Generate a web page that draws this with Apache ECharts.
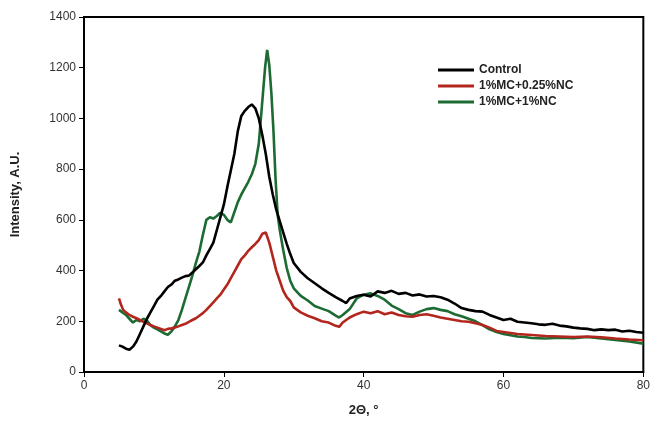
<!DOCTYPE html>
<html><head><meta charset="utf-8">
<script src="https://cdn.jsdelivr.net/npm/echarts@6/dist/echarts.min.js"></script>
<style>html,body{margin:0;padding:0;background:#fff}#c{width:653px;height:430px}</style>
</head><body><div id="c"></div>
<script>
const seriesNames = ["Control", "1%MC+0.25%NC", "1%MC+1%NC"];
const xTicks = [0, 20, 40, 60, 80];
const yTicks = [0, 200, 400, 600, 800, 1000, 1200, 1400];
const control = [[5,105],[5.5,100],[6,92],[6.5,88],[7,100],[7.5,120],[8,150],[8.5,180],[9,210],[9.5,235],[10,260],[10.5,285],[11,300],[11.5,318],[12,335],[12.5,345],[13,360],[13.5,365],[14,372],[14.5,378],[15,380],[15.5,392],[16,405],[16.5,418],[17,432],[17.5,460],[18,485],[18.5,510],[19,560],[19.5,610],[20,660],[20.5,730],[21,795],[21.5,860],[22,950],[22.5,1010],[23,1030],[23.5,1045],[24,1055],[24.5,1040],[25,1000],[25.5,935],[26,860],[26.5,770],[27,700],[27.5,640],[28,595],[28.5,550],[29,505],[29.5,465],[30,430],[31,395],[32,370],[33,350],[34,330],[35,312],[36,295],[37,280],[37.5,272],[38,290],[39,300],[40,305],[41,298],[42,318],[43,312],[44,320],[45,308],[46,312],[47,302],[48,306],[49,298],[50,300],[51,295],[52,285],[53,270],[54,252],[55,245],[56,240],[57,238],[58,225],[59,215],[60,205],[61,210],[62,198],[63,195],[64,192],[65,188],[66,186],[67,190],[68,183],[69,180],[70,175],[71,172],[72,170],[73,165],[74,168],[75,165],[76,167],[77,160],[78,163],[79,158],[80,155]];
const mc025 = [[5,290],[5.3,265],[5.6,245],[6,235],[6.5,225],[7,218],[7.5,212],[8,205],[8.5,198],[9,192],[9.5,185],[10,180],[10.5,175],[11,170],[11.5,165],[12,170],[12.5,172],[13,175],[13.5,180],[14,185],[14.5,190],[15,198],[15.5,205],[16,212],[16.5,222],[17,232],[17.5,245],[18,260],[18.5,275],[19,290],[19.5,305],[20,325],[20.5,345],[21,370],[21.5,395],[22,420],[22.5,445],[23,460],[23.5,478],[24,492],[24.5,505],[25,520],[25.5,545],[26,550],[26.5,510],[27,455],[27.5,400],[28,360],[28.5,320],[29,295],[29.5,280],[30,255],[31,235],[32,222],[33,212],[34,200],[35,195],[36,182],[36.5,178],[37,195],[38,215],[39,228],[40,238],[41,232],[42,240],[43,228],[44,235],[45,225],[46,220],[47,218],[48,225],[49,228],[50,222],[51,215],[52,210],[53,205],[54,200],[55,198],[56,192],[57,185],[58,175],[59,162],[60,158],[62,150],[64,146],[66,142],[68,140],[70,138],[72,140],[74,137],[76,132],[78,128],[80,125]];
const mc1 = [[5,245],[5.5,235],[6,225],[6.5,210],[7,195],[7.5,205],[8,200],[8.5,210],[9,203],[9.5,185],[10,175],[10.5,168],[11,160],[11.5,152],[12,147],[12.5,160],[13,180],[13.5,205],[14,245],[14.5,290],[15,335],[15.5,380],[16,430],[16.5,475],[17,540],[17.5,600],[18,610],[18.5,605],[19,615],[19.5,628],[20,620],[20.5,600],[21,590],[21.5,630],[22,670],[22.5,700],[23,725],[23.5,750],[24,780],[24.5,820],[25,900],[25.3,1000],[25.6,1100],[25.9,1200],[26.2,1270],[26.5,1210],[26.8,1100],[27.1,950],[27.4,760],[27.7,620],[28,560],[28.5,480],[29,410],[29.5,360],[30,330],[31,300],[32,282],[33,260],[34,250],[35,240],[36,222],[36.5,215],[37,225],[38,248],[39,290],[40,305],[41,310],[42,300],[43,285],[44,262],[45,248],[46,232],[47,225],[48,238],[49,248],[50,252],[51,245],[52,240],[53,228],[54,220],[55,210],[56,200],[57,185],[58,168],[59,158],[60,150],[61,145],[62,140],[63,138],[64,134],[66,132],[68,135],[70,133],[72,138],[74,132],[76,126],[78,120],[80,112]];
const colors = ["#000000", "#b3261e", "#1c6b32"];
const dataSets = [control, mc025, mc1];

const chart = echarts.init(document.getElementById('c'), null, {renderer: 'canvas'});
const font = 'Liberation Sans, Arial, sans-serif';
chart.setOption({
  animation: false,
  backgroundColor: '#fff',
  grid: {left: 84, right: 9, top: 17, bottom: 58, show: true, borderColor: '#000', borderWidth: 2, backgroundColor: 'transparent'},
  legend: {
    orient: 'vertical', left: 433, top: 59, itemGap: 4, itemWidth: 36, itemHeight: 3,
    icon: 'rect',
    data: seriesNames,
    textStyle: {fontFamily: font, fontWeight: 'bold', fontSize: 12, color: '#222'}
  },
  xAxis: {
    type: 'value', min: xTicks[0], max: xTicks[xTicks.length - 1], interval: 20,
    name: '2Θ, °', nameLocation: 'middle', nameGap: 32,
    nameTextStyle: {fontFamily: font, fontWeight: 'bold', fontSize: 13, color: '#222'},
    axisLine: {show: true, lineStyle: {color: '#000', width: 2}},
    axisTick: {show: true, inside: false, length: 5, lineStyle: {color: '#000', width: 1}},
    axisLabel: {fontFamily: font, fontSize: 12, color: '#333', margin: 8, formatter: v => String(v)},
    splitLine: {show: false}
  },
  yAxis: {
    type: 'value', min: yTicks[0], max: yTicks[yTicks.length - 1], interval: 200,
    name: 'Intensity, A.U.', nameLocation: 'middle', nameGap: 62,
    nameTextStyle: {fontFamily: font, fontWeight: 'bold', fontSize: 13, color: '#222'},
    axisLine: {show: true, lineStyle: {color: '#000', width: 2}},
    axisTick: {show: true, inside: false, length: 5, lineStyle: {color: '#000', width: 1}},
    axisLabel: {fontFamily: font, fontSize: 12, color: '#333', margin: 8, formatter: v => String(v)},
    splitLine: {show: false}
  },
  series: dataSets.map((d, i) => ({
    name: seriesNames[i], type: 'line', data: d, showSymbol: false, symbol: 'none',
    lineStyle: {color: colors[i], width: 2.6}, itemStyle: {color: colors[i]}, z: i === 1 ? 3 : (i === 2 ? 2 : 4)
  }))
});
</script></body></html>
